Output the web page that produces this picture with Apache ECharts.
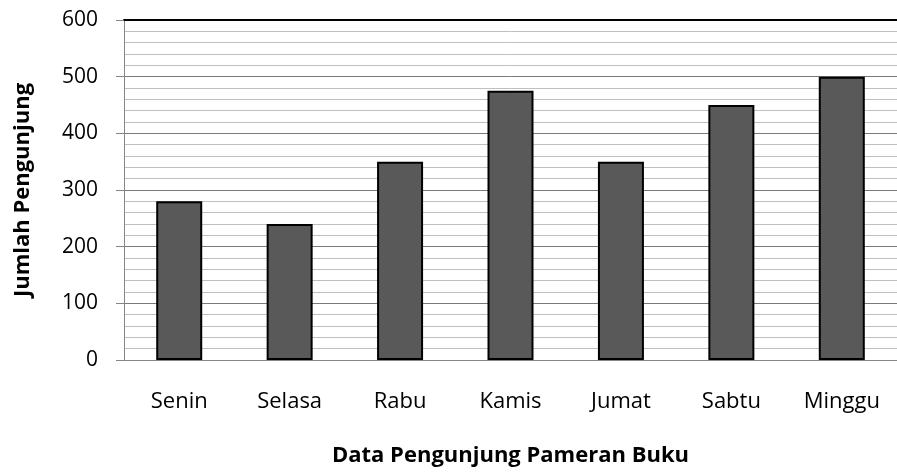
<!DOCTYPE html>
<html>
<head>
<meta charset="utf-8">
<script src="https://cdn.jsdelivr.net/npm/echarts@6/dist/echarts.min.js"></script>
<style>
html, body { margin: 0; padding: 0; background: #fff; }
#main { width: 897px; height: 472px; }
</style>
</head>
<body>
<div id="main"></div>
<script>
var days = ['Senin', 'Selasa', 'Rabu', 'Kamis', 'Jumat', 'Sabtu', 'Minggu'];
var visitors = [280, 240, 350, 475, 350, 450, 500];
var yTicks = [0, 100, 200, 300, 400, 500, 600];

var fontName = '"Open Sans", "DejaVu Sans", sans-serif';
var myChart = echarts.init(document.getElementById('main'));
var option = {
    animation: false,
    backgroundColor: '#fff',
    grid: { left: 124, top: 20, width: 780, height: 341 },
    xAxis: [{
        type: 'category',
        data: days,
        name: 'Data Pengunjung Pameran Buku',
        nameLocation: 'middle',
        nameGap: 85,
        nameTextStyle: { fontFamily: fontName, fontWeight: 'bold', fontSize: 22, color: '#000' },
        axisLine: { lineStyle: { color: '#868686', width: 1 } },
        axisTick: { length: 8, lineStyle: { color: '#868686' } },
        axisLabel: { margin: 31, fontFamily: fontName, fontSize: 22, color: '#000' }
    }, {
        type: 'category',
        data: days,
        position: 'top',
        axisLine: { lineStyle: { color: '#000', width: 2 } },
        axisTick: { show: false },
        axisLabel: { show: false }
    }],
    yAxis: {
        type: 'value',
        min: yTicks[0],
        max: yTicks[yTicks.length - 1],
        interval: 100,
        name: 'Jumlah Pengunjung',
        nameLocation: 'middle',
        nameGap: 90,
        nameTextStyle: { fontFamily: fontName, fontWeight: 'bold', fontSize: 22, color: '#000' },
        axisLine: { show: true, lineStyle: { color: '#868686' } },
        axisTick: { show: true, length: 8, lineStyle: { color: '#868686' } },
        axisLabel: { margin: 26, fontFamily: fontName, fontSize: 21, color: '#000' },
        splitLine: { lineStyle: { color: '#7a7a7a', width: 1 } },
        minorTick: { show: false, splitNumber: 5 },
        minorSplitLine: { show: true, lineStyle: { color: '#bfbfbf', width: 1 } }
    },
    series: [{
        type: 'bar',
        data: visitors,
        barWidth: 46,
        itemStyle: { color: '#595959', borderColor: '#000', borderWidth: 2 }
    }]
};
myChart.setOption(option);
</script>
</body>
</html>
